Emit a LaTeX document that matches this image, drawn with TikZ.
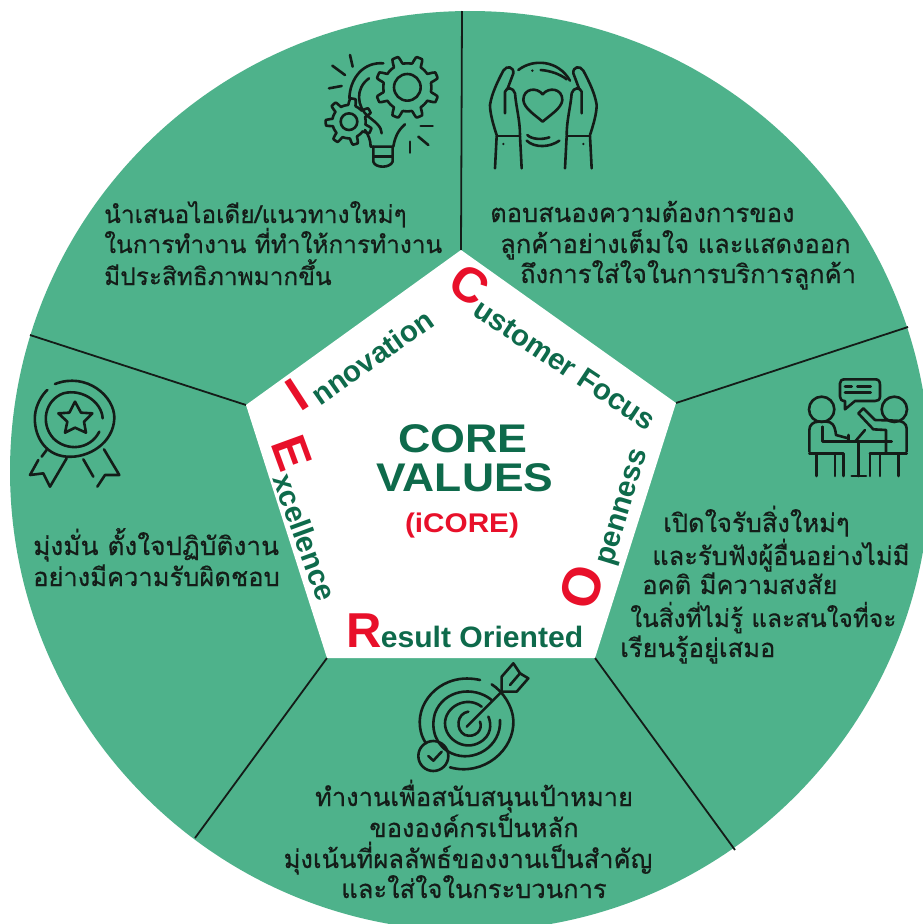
\documentclass[tikz,border=0pt]{standalone}
\usepackage{fontspec}
\usepackage{graphicx}
\setmainfont{Liberation Sans}
\newfontfamily\thaifont[Script=Thai,FakeBold=0.5]{Loma}
\definecolor{wheel}{HTML}{4EB28B}
\definecolor{deep}{HTML}{0E6A4B}
\definecolor{hot}{HTML}{E8102A}
\definecolor{ink}{HTML}{141C18}
\tikzset{
  spoke/.style={draw=ink,line width=1.8pt},
  thaiL/.style={anchor=base west,inner sep=0pt,text=ink,font=\thaifont\fontsize{25.5}{25.5}\selectfont},
  thaiC/.style={anchor=base,inner sep=0pt,text=ink,font=\thaifont\fontsize{25.5}{25.5}\selectfont},
  thaiS/.style={thaiL,font=\thaifont\fontsize{24.4}{24.4}\selectfont},
  edgetext/.style={inner sep=0pt,text=deep,font=\bfseries\fontsize{29.5}{29.5}\selectfont},
  bigletter/.style={inner sep=0pt,text=hot,font=\bfseries\fontsize{49}{49}\selectfont},
  icon/.style={draw=ink,line width=2.6pt,line cap=round,line join=round,fill=none},
  zoomed/.style={x=0.33333pt,y=-0.33333pt}
}
\newcommand{\gearicon}[6]{% cx cy inner outer teeth phase
  \draw[icon] plot[domain=0:360,samples=181] ({#1+(#3+(#4-#3)*max(0,min(1,2.2-abs(mod(\x*#5+#6+3600,360)-180)/40)))*cos(\x)},{#2+(#3+(#4-#3)*max(0,min(1,2.2-abs(mod(\x*#5+#6+3600,360)-180)/40)))*sin(\x)});
}
\begin{document}
\begin{tikzpicture}[x=1pt,y=-1pt]
\useasboundingbox (0,0) rectangle (923,924);
\fill[white] (0,0) rectangle (923,924);
\begin{scope}
\clip (0,0) rectangle (923,924);
\fill[wheel] (470,471) circle[radius=460pt];
\coordinate (rimA) at (462,11);
\coordinate (rimB) at (908,327);
\coordinate (rimC) at (735,850);
\coordinate (rimD) at (195,838);
\coordinate (rimE) at (30,335);
\coordinate (penA) at (461,250);
\coordinate (penB) at (676,403);
\coordinate (penC) at (595,658);
\coordinate (penD) at (327,658);
\coordinate (penE) at (246,405);
\draw[spoke] (penA) -- (rimA);
\draw[spoke] (penB) -- (rimB);
\draw[spoke] (penC) -- (rimC);
\draw[spoke] (penD) -- (rimD);
\draw[spoke] (penE) -- (rimE);
\fill[white] (penA) -- (penB) -- (penC) -- (penD) -- (penE) -- cycle;
\end{scope}
% centre
\node[inner sep=0pt,text=deep,font=\bfseries\fontsize{40}{40}\selectfont] (core) at (463,439) {\scalebox{1.12}[1]{CORE}};
\node[inner sep=0pt,text=deep,font=\bfseries\fontsize{40}{40}\selectfont] (values) at (465,478) {\scalebox{1.11}[1]{VALUES}};
\node[inner sep=0pt,text=hot,font=\bfseries\fontsize{27}{27}\selectfont] (icore) at (462,526) {\scalebox{1.1}[1]{(iCORE)}};
% edge labels
\node[edgetext,rotate=-33.5] (cust) at (565,365) {ustomer Focus};
\node[bigletter,rotate=-33] (custC) at (470,285) {C};
\node[edgetext,rotate=35] (inno) at (372,357) {nnovation};
\node[bigletter,rotate=33] (innoI) at (297,395) {I};
\node[edgetext,rotate=73] (open) at (625,508) {penness};
\node[bigletter,rotate=73,font=\bfseries\fontsize{54}{54}\selectfont] (openO) at (582,587) {O};
\node[edgetext,rotate=-70] (exce) at (305,537) {xcellence};
\node[bigletter,rotate=-70] (exceE) at (292,453) {E};
\node[edgetext] (resu) at (482,637) {\scalebox{1.02}[1]{esult Oriented}};
\node[bigletter] (resuR) at (364,631) {R};
% thai text
\node[thaiS] (t1a) at (104,223) {นำเสนอไอเดีย/แนวทางใหม่ๆ};
\node[thaiS] (t1b) at (104,253) {ในการทำงาน ที่ทำให้การทำงาน};
\node[thaiS] (t1c) at (104,285) {มีประสิทธิภาพมากขึ้น};
\node[thaiL] (t2a) at (490,222) {ตอบสนองความต้องการของ};
\node[thaiL] (t2b) at (500,253) {ลูกค้าอย่างเต็มใจ และแสดงออก};
\node[thaiL] (t2c) at (520,283) {ถึงการใส่ใจในการบริการลูกค้า};
\node[thaiL] (t3a) at (663,532) {เปิดใจรับสิ่งใหม่ๆ};
\node[thaiL] (t3b) at (652,565) {และรับฟังผู้อื่นอย่างไม่มี};
\node[thaiL] (t3c) at (642,594) {อคติ มีความสงสัย};
\node[thaiS] (t3d) at (630,627) {ในสิ่งที่ไม่รู้ และสนใจที่จะ};
\node[thaiL] (t3e) at (620,657) {เรียนรู้อยู่เสมอ};
\node[thaiL] (t4a) at (33,555) {\scalebox{1.03}[1]{มุ่งมั่น ตั้งใจปฏิบัติงาน}};
\node[thaiL] (t4b) at (33,586) {อย่างมีความรับผิดชอบ};
\node[thaiC] (t5a) at (474,806) {ทำงานเพื่อสนับสนุนเป้าหมาย};
\node[thaiC] (t5b) at (474,837) {ขององค์กรเป็นหลัก};
\node[thaiC] (t5c) at (468,868) {มุ่งเน้นที่ผลลัพธ์ของงานเป็นสำคัญ};
\node[thaiC] (t5d) at (474,898) {และใส่ใจในกระบวนการ};
% bulb icon
\begin{scope}[shift={(300,0)},zoomed]
\gearicon{322}{262}{72}{95}{8}{0}
\draw[icon] (322,262) circle[radius=40];
\gearicon{147}{365}{50}{70}{7}{20}
\draw[icon] (147,365) circle[radius=25];
\draw[icon] (250,190) .. controls (190,185) and (150,235) .. (148,295);
\draw[icon] (195,390) .. controls (205,405) and (212,420) .. (212,440) -- (280,440) .. controls (285,410) and (295,390) .. (315,373);
\draw[icon] (207,235) .. controls (165,265) and (170,320) .. (205,350) .. controls (225,365) and (245,380) .. (245,400);
\draw[icon] (220,440) -- (220,485) .. controls (225,505) and (270,505) .. (278,485) -- (278,440);
\draw[icon] (220,470) -- (278,470);
\draw[icon] (150,165) -- (158,200);
\draw[icon] (97,197) -- (135,225);
\draw[icon] (87,265) -- (125,258);
\draw[icon] (362,378) -- (398,378);
\draw[icon] (355,410) -- (385,435);
\draw[icon] (330,425) -- (330,458);
\end{scope}
% hands icon
\begin{scope}[shift={(470,50)},zoomed]
\draw[icon] (80,258) -- (150,258);
\draw[icon] (80,258) -- (75,355);
\draw[icon] (150,258) -- (155,355);
\draw[icon] (80,255) .. controls (70,225) and (60,190) .. (60,165) .. controls (65,130) and (85,90) .. (100,62) .. controls (110,45) and (132,50) .. (130,70) -- (112,118);
\draw[icon] (105,190) -- (105,125) .. controls (110,110) and (130,112) .. (135,130) .. controls (138,170) and (150,210) .. (150,255);
\draw[icon] (290,258) -- (360,258);
\draw[icon] (360,258) -- (365,355);
\draw[icon] (290,258) -- (285,355);
\draw[icon] (360,255) .. controls (370,225) and (380,190) .. (380,165) .. controls (375,130) and (355,90) .. (340,62) .. controls (330,45) and (308,50) .. (310,70) -- (328,118);
\draw[icon] (335,190) -- (335,125) .. controls (330,110) and (310,112) .. (305,130) .. controls (302,170) and (290,210) .. (290,255);
\fill[ink] (100,282) circle[radius=4];
\fill[ink] (340,282) circle[radius=4];
\draw[icon] (218,133) .. controls (200,110) and (160,115) .. (160,150) .. controls (162,175) and (195,195) .. (218,215) .. controls (240,195) and (275,175) .. (277,150) .. controls (277,115) and (236,110) .. (218,133);
\draw[icon] (145,60) .. controls (190,25) and (265,30) .. (300,92);
\draw[icon] (212,60) .. controls (240,62) and (270,72) .. (290,88);
\fill[ink] (187,62) circle[radius=4];
\draw[icon] (172,255) .. controls (185,268) and (215,270) .. (238,262);
\draw[icon] (170,272) .. controls (195,295) and (240,292) .. (268,272);
\end{scope}
% medal icon
\begin{scope}[shift={(10,360)},zoomed]
\draw[icon] (135,72) .. controls (230,35) and (315,110) .. (313,175) .. controls (310,250) and (235,295) .. (170,290) .. controls (100,285) and (70,220) .. (75,165) .. controls (78,135) and (95,105) .. (112,90);
\draw[icon] (268,215) .. controls (240,270) and (170,275) .. (130,235) .. controls (90,190) and (105,120) .. (160,100) .. controls (215,85) and (275,125) .. (278,175);
\draw[icon] (195,125) -- (213,158) -- (247,160) -- (222,185) -- (228,218) -- (195,203) -- (165,218) -- (172,185) -- (145,160) -- (178,158) -- cycle;
\draw[icon] (110,270) -- (95,290);
\draw[icon] (85,300) -- (60,345) -- (100,340) -- (120,380) -- (170,295);
\draw[icon] (220,298) -- (250,350);
\draw[icon] (282,268) -- (328,345) -- (285,345) -- (262,380);
\end{scope}
% meeting icon
\begin{scope}[shift={(780,370)},zoomed]
\draw[icon] (125,118) circle[radius=38];
\draw[icon] (343,118) circle[radius=38];
\draw[icon] (180,80) -- (180,40) .. controls (180,32) and (185,28) .. (195,28) -- (285,28) .. controls (295,28) and (300,32) .. (300,45) -- (300,80) .. controls (300,90) and (292,93) .. (285,93) -- (225,93) -- (195,118) -- (195,93) .. controls (185,93) and (180,88) .. (180,80);
\draw[icon] (195,50) -- (215,50);
\draw[icon] (232,50) -- (272,50);
\draw[icon] (195,68) -- (272,68);
\draw[icon] (88,245) -- (88,180) .. controls (88,165) and (100,155) .. (115,155) -- (140,155) .. controls (155,155) and (165,165) .. (168,195) -- (205,205);
\draw[icon] (128,170) -- (128,215) -- (335,215);
\draw[icon] (205,195) -- (205,215);
\draw[icon] (380,245) -- (380,175) .. controls (380,160) and (365,152) .. (350,152) -- (285,150) -- (250,115) -- (235,130) -- (280,178) -- (318,180) -- (318,250);
\draw[icon] (255,180) -- (225,215);
\draw[icon] (235,220) -- (235,318);
\draw[icon] (215,318) -- (258,318);
\draw[icon] (88,250) -- (190,250) -- (190,318);
\draw[icon] (110,250) -- (110,318);
\draw[icon] (165,250) -- (165,318);
\draw[icon] (270,250) -- (380,250);
\draw[icon] (270,250) -- (270,318);
\draw[icon] (300,250) -- (300,318);
\draw[icon] (355,250) -- (355,318);
\end{scope}
% target icon
\begin{scope}[shift={(400,650)},zoomed]
\draw[icon] (240,90) .. controls (130,65) and (50,150) .. (60,230) .. controls (62,250) and (68,265) .. (78,280);
\draw[icon] (150,352) .. controls (250,380) and (345,300) .. (340,210) .. controls (338,170) and (310,125) .. (275,103);
\draw[icon] (275,150) .. controls (220,105) and (130,120) .. (105,190) .. controls (90,240) and (110,290) .. (155,310) .. controls (220,340) and (305,290) .. (300,210);
\draw[icon] (245,170) .. controls (200,135) and (135,170) .. (135,220) .. controls (135,270) and (200,310) .. (250,270) .. controls (280,245) and (270,210) .. (265,200);
\draw[icon] (205,185) .. controls (170,190) and (165,240) .. (195,255) .. controls (225,265) and (250,240) .. (240,215);
\draw[icon] (200,230) -- (305,125);
\draw[icon] (305,125) -- (305,80) -- (340,40) -- (360,70) -- (330,105);
\draw[icon] (305,125) -- (350,125) -- (385,85) -- (360,70);
\draw[icon] (100,318) circle[radius=45];
\draw[icon] (85,318) -- (100,332) -- (125,305);
\end{scope}
\end{tikzpicture}
\end{document}
